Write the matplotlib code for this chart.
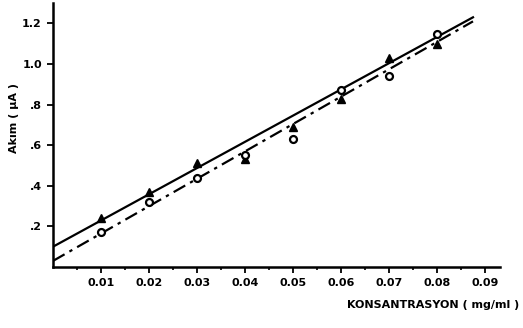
import matplotlib.pyplot as plt
import numpy as np

# konsantrasyon (mg/ml)
konsantrasyon = [0.01, 0.02, 0.03, 0.04, 0.05, 0.06, 0.07, 0.08]
akim_ucgen = [0.24, 0.37, 0.51, 0.53, 0.69, 0.83, 1.03, 1.10]
akim_daire = [0.17, 0.32, 0.44, 0.55, 0.63, 0.87, 0.94, 1.15]

# kalibrasyon dogrulari (uc noktalar)
dogru_x = [0.0, 0.0875]
dogru_ucgen = [0.10, 1.23]
dogru_daire = [0.03, 1.21]

x_ticks = [0.01, 0.02, 0.03, 0.04, 0.05, 0.06, 0.07, 0.08, 0.09]
x_labels = ["0.01", "0.02", "0.03", "0.04", "0.05", "0.06", "0.07", "0.08", "0.09"]
y_ticks = [0.2, 0.4, 0.6, 0.8, 1.0, 1.2]
y_labels = [".2", ".4", ".6", ".8", "1.0", "1.2"]

plt.rcParams['font.family'] = ['DejaVu Sans']

fig = plt.figure(figsize=(5.23, 3.28), dpi=100)
ax = fig.add_axes([53 / 523, 61 / 328, 447 / 523, 264 / 328])

ax.plot(dogru_x, dogru_ucgen, color='black', lw=1.6, linestyle='-')
ax.plot(dogru_x, dogru_daire, color='black', lw=1.6, linestyle=(0, (6, 2.5, 1.5, 2.5)))
ax.plot(konsantrasyon, akim_ucgen, linestyle='none', marker='^', ms=5.5, color='black')
ax.plot(konsantrasyon, akim_daire, linestyle='none', marker='o', ms=5, mfc='white', mec='black', mew=1.6)

ax.set_xlim(0, 447 / 4800)
ax.set_ylim(0, 264 / 203)

ax.spines['top'].set_visible(False)
ax.spines['right'].set_visible(False)
ax.spines['left'].set_linewidth(1.8)
ax.spines['bottom'].set_linewidth(1.8)

ax.set_xticks(x_ticks)
ax.set_xticklabels(x_labels, fontsize=8, fontweight='bold')
ax.set_xticks(np.arange(0.005, 0.095, 0.01), minor=True)
ax.set_yticks(y_ticks)
ax.set_yticklabels(y_labels, fontsize=8, fontweight='bold')
ax.tick_params(axis='both', which='major', length=4, width=1.3, direction='out', pad=4)
ax.tick_params(axis='x', which='minor', length=2.5, width=1.2, direction='out')

fig.text(14 / 523, 1 - 118 / 328, "Akım ( µA )", rotation=90, ha='center', va='center',
         fontsize=8, fontweight='bold')
fig.text(519 / 523, 1 - 305 / 328, "KONSANTRASYON ( mg/ml )", ha='right', va='center',
         fontsize=8, fontweight='bold')

fig.savefig("out.png", dpi=100)
